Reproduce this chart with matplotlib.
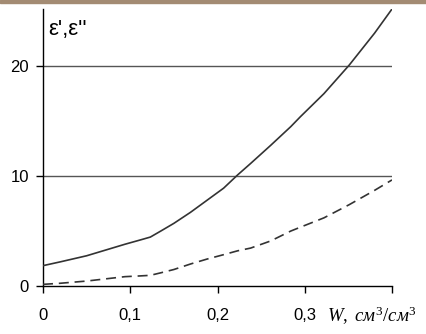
import numpy as np
import matplotlib
matplotlib.use('Agg')
import matplotlib.pyplot as plt
from matplotlib.patches import Rectangle

# values
W = [0, 0.02, 0.05, 0.094, 0.112, 0.123, 0.135, 0.15, 0.169, 0.188,
     0.207, 0.223, 0.238, 0.261, 0.284, 0.295, 0.322, 0.351, 0.38, 0.4]
eps_real = [1.85, 2.2, 2.75, 3.8, 4.2, 4.45, 5.0, 5.7, 6.7, 7.8,
            8.9, 10.1, 11.15, 12.8, 14.5, 15.4, 17.5, 20.1, 23.0, 25.2]
eps_imag = [0.15, 0.25, 0.45, 0.85, 0.92, 0.97, 1.2, 1.5, 2.0, 2.45,
            2.85, 3.2, 3.45, 4.1, 5.0, 5.35, 6.2, 7.4, 8.7, 9.65]

x_ticks = [0, 0.1, 0.2, 0.3, 0.4]
x_tick_labels = ['0', '0,1', '0,2', '0,3', '']
y_ticks = [0, 10, 20]
grid_levels = [10, 20]

plt.rcParams['font.family'] = ['Liberation Sans', 'DejaVu Sans']
plt.rcParams['mathtext.fontset'] = 'custom'
plt.rcParams['mathtext.it'] = 'Liberation Serif:italic'
plt.rcParams['mathtext.rm'] = 'Liberation Serif'

fig = plt.figure(figsize=(4.27, 3.34), dpi=100)
fig.patches.append(Rectangle((0, 1 - 3 / 334), 1, 3 / 334, transform=fig.transFigure,
                             color='#a38b73', zorder=0))
ax = fig.add_axes([43 / 427, 1 - 286 / 334, 349 / 427, 277 / 334])

for lev in grid_levels:
    ax.axhline(lev, color='#555555', lw=1.0, zorder=1)

ax.plot(W, eps_real, color='#333333', lw=1.2, zorder=3)
ax.plot(W, eps_imag, color='#333333', lw=1.2, dashes=(6, 3.5), zorder=3)

ax.set_xlim(0, 0.4)
ax.set_ylim(0, 25.2)
for s in ['top', 'right']:
    ax.spines[s].set_visible(False)
for s in ['left', 'bottom']:
    ax.spines[s].set_linewidth(1.0)

ax.set_xticks(x_ticks)
ax.set_xticklabels(x_tick_labels)
ax.set_yticks(y_ticks)
ax.tick_params(axis='x', direction='out', length=5, width=1, pad=11, labelsize=12)
ax.tick_params(axis='y', direction='out', length=5, width=1, pad=5, labelsize=12)

ax.text(0.015, 0.965, "ε',ε''", transform=ax.transAxes, fontsize=16,
        ha='left', va='top')
fig.text(327 / 427, 1 - 316 / 334, r'$W,\ см^3/см^3$', fontsize=13.5,
         ha='left', va='center')

fig.savefig('out.png', dpi=100)
